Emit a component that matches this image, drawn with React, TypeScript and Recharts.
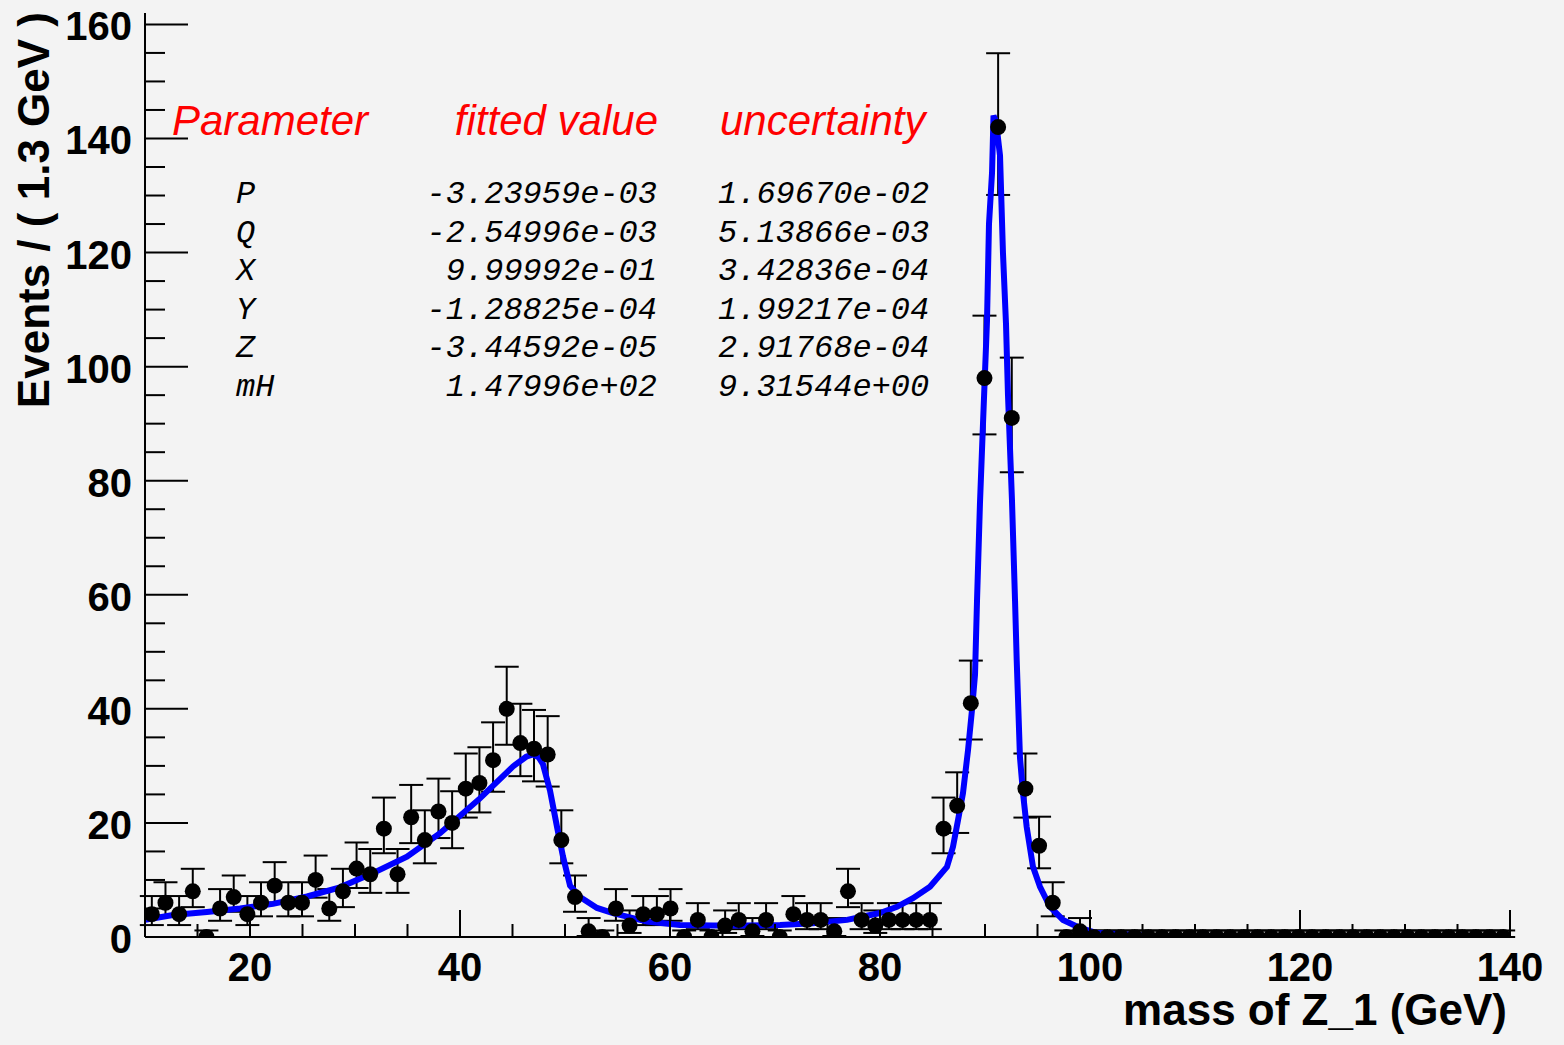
import React from 'react';
import { ComposedChart, Scatter, Line, XAxis, YAxis, ErrorBar } from 'recharts';

// ---- histogram binning (RooFit: 100 bins of 1.3 GeV from 10 to 140) ----
const BIN_LOW = 10;
const BIN_WIDTH = 1.3;

// events per bin
const counts = [
  4, 6, 4, 8, 0, 5, 7, 4, 6, 9,
  6, 6, 10, 5, 8, 12, 11, 19, 11, 21,
  17, 22, 20, 26, 27, 31, 40, 34, 33, 32,
  17, 7, 1, 0, 5, 2, 4, 4, 5, 0,
  3, 0, 2, 3, 1, 3, 0, 4, 3, 3,
  1, 8, 3, 2, 3, 3, 3, 3, 19, 23,
  41, 98, 142, 91, 26, 16, 6, 0, 1, 0,
  0, 0, 0, 0, 0, 0, 0, 0, 0, 0,
  0, 0, 0, 0, 0, 0, 0, 0, 0, 0,
  0, 0, 0, 0, 0, 0, 0, 0, 0, 0,
];

// fitted pdf curve
const fitX = [
  10.0, 12.67, 15.9, 19.05, 22.19, 25.43, 28.57, 31.71, 34.95, 38.1,
  41.9, 45.05, 46.3, 46.95, 47.5, 47.9, 48.57, 49.24, 49.81, 50.48,
  51.43, 53.05, 54.57, 57.81, 60.95, 64.1, 67.33, 70.48, 73.62, 76.86,
  78.38, 80.0, 81.62, 83.14, 84.76, 86.38, 86.95, 87.43, 87.9, 88.38,
  88.76, 89.05, 89.24, 89.52, 89.81, 90.19, 90.38, 90.67, 90.81, 91.05,
  91.43, 91.71, 92.0, 92.19, 92.57, 92.86, 93.02, 93.33, 93.62, 93.97,
  94.57, 95.24, 96.19, 97.43, 99.05, 100.67, 105.7, 120, 140,
];
const fitY = [
  3.0, 3.85, 4.4, 5.0, 5.8, 7.1, 8.7, 11.2, 14.1, 18.2,
  24.3, 29.9, 31.6, 32.0, 31.5, 30.3, 25.7, 19.3, 14.1, 9.0,
  7.0, 5.1, 4.2, 2.7, 2.1, 2.0, 2.0, 2.1, 2.4, 3.0,
  3.6, 4.2, 5.3, 6.8, 8.8, 12.3, 15.8, 20.5, 25.2, 32.7,
  39.8, 46, 59, 76, 90, 108, 125, 134, 144, 143,
  137, 120, 107.5, 95, 76.5, 59, 48.5, 31.5, 25.2, 19.3,
  12.3, 8.8, 5.3, 3.0, 1.6, 0.7, 0.2, 0.05, 0.02,
];

// axis ticks
const xTicks = [10, 15, 20, 25, 30, 35, 40, 45, 50, 55, 60, 65, 70, 75, 80, 85, 90, 95, 100, 105, 110, 115, 120, 125, 130, 135, 140];
const xLabelTicks = [20, 40, 60, 80, 100, 120, 140];
const yTicks = [0, 5, 10, 15, 20, 25, 30, 35, 40, 45, 50, 55, 60, 65, 70, 75, 80, 85, 90, 95, 100, 105, 110, 115, 120, 125, 130, 135, 140, 145, 150, 155, 160];
const yLabelTicks = [0, 20, 40, 60, 80, 100, 120, 140, 160];

// fit result table
const paramNames = ['P', 'Q', 'X', 'Y', 'Z', 'mH'];
const paramValues = ['-3.23959e-03', '-2.54996e-03', '9.99992e-01', '-1.28825e-04', '-3.44592e-05', '1.47996e+02'];
const paramErrors = ['1.69670e-02', '5.13866e-03', '3.42836e-04', '1.99217e-04', '2.91768e-04', '9.31544e+00'];
const headers = ['Parameter', 'fitted value', 'uncertainty'];

const SANS = '"Liberation Sans", Arial, Helvetica, sans-serif';
const MONO = '"Liberation Mono", "Courier New", monospace';

// Poisson (Garwood-like, Gehrels approximation) interval -> [minus, plus]
function poissonErr(n: number): [number, number] {
  if (n === 0) return [0, 1.148];
  const lo = n * Math.pow(1 - 1 / (9 * n) - 1 / (3 * Math.sqrt(n)), 3);
  const hi = n + 1 + Math.sqrt(n + 0.75);
  return [n - lo, hi - n];
}

const points = counts.map((n, i) => ({
  x: BIN_LOW + BIN_WIDTH * (i + 0.5),
  y: n,
  err: poissonErr(n),
}));

const curve = fitX.map((x, i) => ({ x, y: fitY[i] }));

const XTick = (props: any) => {
  const { x, y, payload } = props;
  const v = payload.value;
  const major = xLabelTicks.includes(v);
  return (
    <g>
      <line x1={x} x2={x} y1={y} y2={y - (major ? 27 : 13)} stroke="#000" strokeWidth={2} />
      {major && (
        <text x={x} y={y + 44} textAnchor="middle" fontFamily={SANS} fontWeight="bold" fontSize={40} fill="#000">
          {v}
        </text>
      )}
    </g>
  );
};

const YTick = (props: any) => {
  const { x, y, payload } = props;
  const v = payload.value;
  const major = yLabelTicks.includes(v);
  return (
    <g>
      <line x1={x} x2={x + (major ? 43 : 20)} y1={y} y2={y} stroke="#000" strokeWidth={2} />
      {major && (
        <text x={x - 13} y={y + 16} textAnchor="end" fontFamily={SANS} fontWeight="bold" fontSize={40} fill="#000">
          {v}
        </text>
      )}
    </g>
  );
};

const renderMarker = (p: any) => (
  <circle cx={p.cx} cy={p.cy} r={8} fill="#000" stroke="none" />
);

export default function App() {
  const W = 1564;
  const H = 1045;
  return (
    <div style={{ position: 'absolute', left: 0, top: 0, width: W, height: H, background: '#f3f3f3' }}>
      <ComposedChart width={W} height={H} margin={{ top: 13, right: 54, bottom: 0, left: 0 }}>
        <XAxis
          type="number"
          dataKey="x"
          domain={[10, 140]}
          ticks={xTicks}
          interval={0}
          tick={<XTick />}
          tickLine={false}
          tickSize={0}
          tickMargin={0}
          height={108}
          axisLine={{ stroke: '#000', strokeWidth: 2 }}
          allowDataOverflow
        />
        <XAxis xAxisId="top" orientation="top" type="number" domain={[10, 140]} height={0} tick={false} tickLine={false} axisLine={{ stroke: '#000', strokeWidth: 2 }} />
        <YAxis
          type="number"
          domain={[0, 162]}
          ticks={yTicks}
          interval={0}
          tick={<YTick />}
          tickLine={false}
          tickSize={0}
          tickMargin={0}
          width={145}
          axisLine={{ stroke: '#000', strokeWidth: 2 }}
          allowDataOverflow
        />
        <YAxis yAxisId="right" orientation="right" type="number" domain={[0, 162]} width={0} tick={false} tickLine={false} axisLine={{ stroke: '#000', strokeWidth: 2 }} />
        <Scatter data={points} dataKey="y" shape={renderMarker} isAnimationActive={false}>
          <ErrorBar dataKey="err" direction="y" width={12} stroke="#000" strokeWidth={2} isAnimationActive={false} />
        </Scatter>
        <Line data={curve} dataKey="y" type="linear" stroke="#0000ff" strokeWidth={6} dot={false} activeDot={false} isAnimationActive={false} />
      </ComposedChart>
      <svg width={W} height={H} style={{ position: 'absolute', left: 0, top: 0, pointerEvents: 'none' }}>
        <text transform="translate(49,12) rotate(-90)" textAnchor="end" fontFamily={SANS} fontWeight="bold" fontSize={44} fill="#000">
          Events / ( 1.3 GeV )
        </text>
        <text x={1507} y={1025} textAnchor="end" fontFamily={SANS} fontWeight="bold" fontSize={44} fill="#000">
          mass of Z_1 (GeV)
        </text>
        <text x={172} y={135} fontFamily={SANS} fontStyle="italic" fontSize={42} fill="#ff0000">{headers[0]}</text>
        <text x={658} y={135} textAnchor="end" fontFamily={SANS} fontStyle="italic" fontSize={42} fill="#ff0000">{headers[1]}</text>
        <text x={720} y={135} fontFamily={SANS} fontStyle="italic" fontSize={42} fill="#ff0000">{headers[2]}</text>
        {paramNames.map((name, i) => (
          <g key={name}>
            <text x={236} y={203 + i * 38.6} fontFamily={MONO} fontStyle="italic" fontSize={32} fill="#000">{name}</text>
            <text x={657} y={203 + i * 38.6} textAnchor="end" fontFamily={MONO} fontStyle="italic" fontSize={32} fill="#000">{paramValues[i]}</text>
            <text x={718} y={203 + i * 38.6} fontFamily={MONO} fontStyle="italic" fontSize={32} fill="#000">{paramErrors[i]}</text>
          </g>
        ))}
      </svg>
    </div>
  );
}
